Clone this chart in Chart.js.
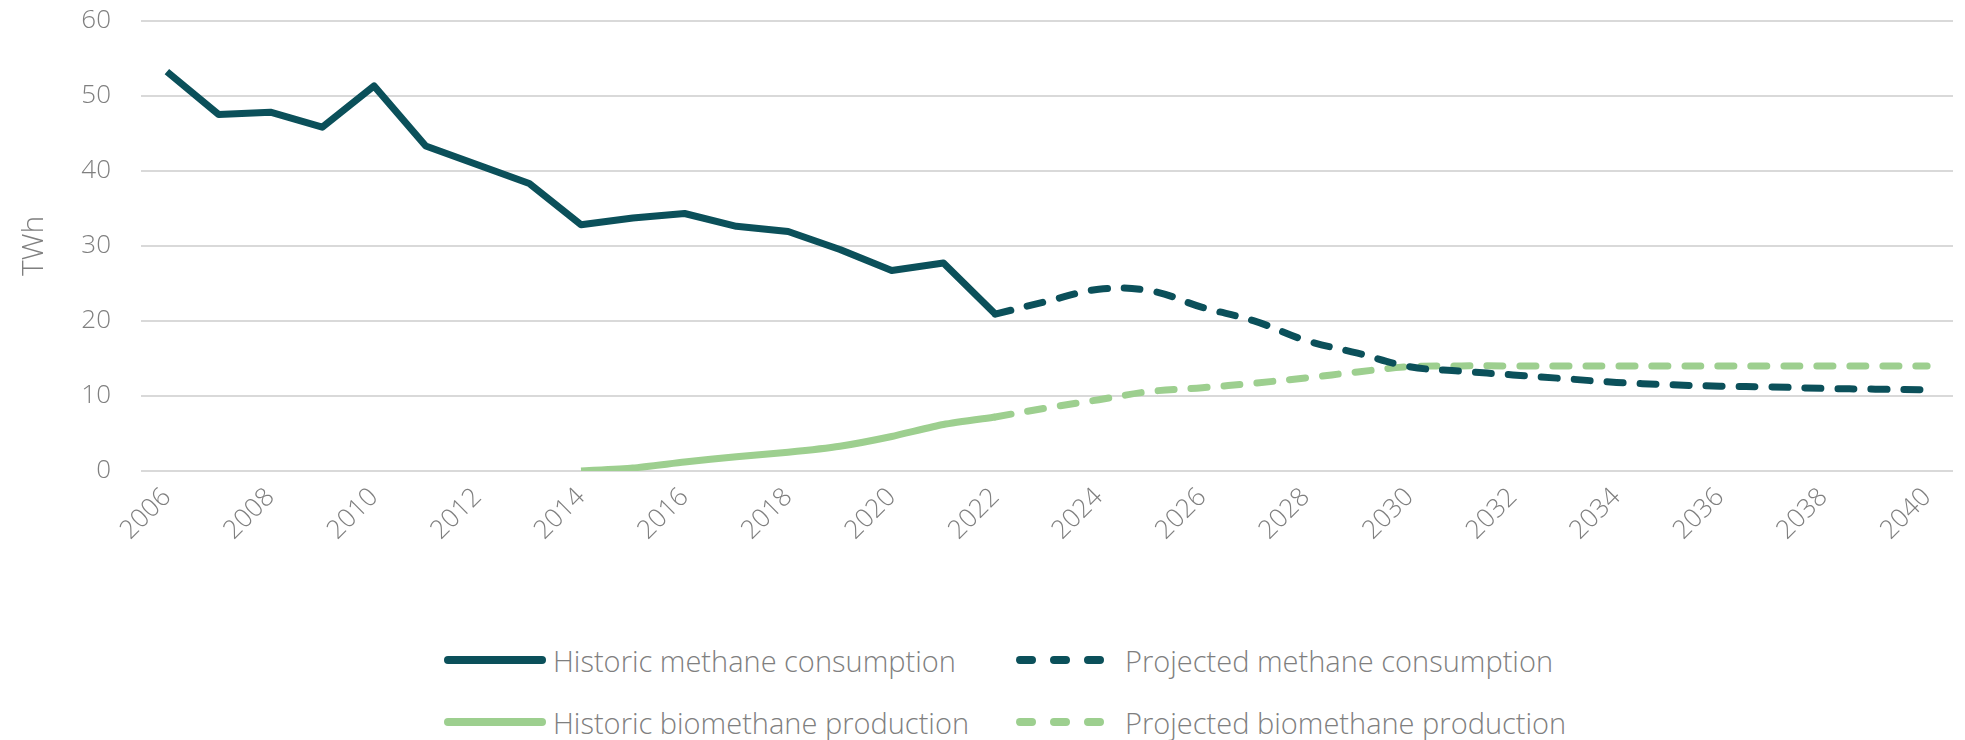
<!DOCTYPE html>
<html lang="en">
  <head>
    <meta charset="UTF-8" />
    <title>Methane consumption and biomethane production</title>
    <script src="https://cdn.jsdelivr.net/npm/chart.js"></script>
    <style>
      body { margin: 0; background: #fff; font-family: "Open Sans", sans-serif; overflow: hidden; }
      #wrap { position: relative; width: 1965px; height: 740px; overflow: hidden; }
      #chartBox { position: absolute; left: 0; top: -25px; width: 1965px; height: 585px; }
      #legend { position: absolute; left: 0; top: 560px; width: 1965px; height: 180px; }
      .item { position: absolute; display: flex; align-items: center; height: 40px;
        font-size: 29px; font-weight: 300; color: #7f7f7f; white-space: nowrap; }
      .item svg { margin-right: 6px; }
    </style>
  </head>
  <body>
    <div id="wrap">
      <div id="chartBox"><canvas id="methaneChart"></canvas></div>
      <div id="legend"></div>
    </div>

    <script>
      // values (TWh)
      const years = [];
      for (let y = 2006; y <= 2040; y++) years.push(String(y));

      // 2006 - 2022
      const historicMethane = [53.2, 47.5, 47.8, 45.8, 51.3, 43.3, 40.8, 38.3, 32.8, 33.7, 34.3, 32.6, 31.9, 29.5, 26.7, 27.7, 20.9];
      // 2022 - 2040
      const projectedMethane = [20.9, 22.6, 24.2, 24.0, 21.8, 20.0, 17.4, 15.7, 13.9, 13.3, 12.8, 12.3, 11.8, 11.5, 11.3, 11.2, 11.0, 10.9, 10.8];
      // 2014 - 2022
      const historicBio = [0.0, 0.4, 1.2, 1.9, 2.5, 3.3, 4.6, 6.2, 7.2];
      // 2022 - 2040
      const projectedBio = [7.2, 8.4, 9.5, 10.6, 11.1, 11.7, 12.4, 13.2, 13.9, 14.0, 14.0, 14.0, 14.0, 14.0, 14.0, 14.0, 14.0, 14.0, 14.0];

      const yTicks = [0, 10, 20, 30, 40, 50, 60];

      function place(values, startYear) {
        const out = years.map(() => null);
        const offset = years.indexOf(String(startYear));
        values.forEach((v, i) => (out[offset + i] = v));
        return out;
      }

      const dark = "#0b505a";
      const light = "#9dcf8f";
      const grey = "#7f7f7f";
      const dash = [16, 17];

      const ctx = document.getElementById("methaneChart").getContext("2d");
      const chart = new Chart(ctx, {
        type: "line",
        data: {
          labels: years,
          datasets: [
            {
              label: "Historic methane consumption",
              data: place(historicMethane, 2006),
              borderColor: dark,
              borderWidth: 7,
              tension: 0,
            },
            {
              label: "Projected methane consumption",
              data: place(projectedMethane, 2022),
              borderColor: dark,
              borderWidth: 7,
              borderDash: dash,
              borderCapStyle: "round",
              tension: 0.4,
            },
            {
              label: "Historic biomethane production",
              data: place(historicBio, 2014),
              borderColor: light,
              borderWidth: 7,
              tension: 0.2,
            },
            {
              label: "Projected biomethane production",
              data: place(projectedBio, 2022),
              borderColor: light,
              borderWidth: 7,
              borderDash: dash,
              borderCapStyle: "round",
              tension: 0.4,
            },
          ],
        },
        options: {
          responsive: true,
          maintainAspectRatio: false,
          animation: false,
          spanGaps: false,
          elements: { point: { radius: 0 }, line: { borderJoinStyle: "round" } },
          layout: { padding: { top: 8, right: 12, left: 0, bottom: 0 } },
          plugins: { legend: { display: false }, tooltip: { enabled: false } },
          scales: {
            x: {
              offset: true,
              grid: { display: false },
              border: { display: false },
              ticks: {
                autoSkip: false,
                minRotation: 45,
                maxRotation: 45,
                color: grey,
                font: { family: "Open Sans", size: 26, weight: 300 },
                callback: function (value, index) {
                  return index % 2 === 0 ? this.getLabelForValue(value) : "";
                },
              },
              afterFit: (scale) => { scale.height = 89; },
            },
            y: {
              min: 0,
              max: 60,
              afterBuildTicks: (scale) => { scale.ticks = yTicks.map((v) => ({ value: v })); },
              grid: { color: "#d9d9d9", lineWidth: 2, drawTicks: false },
              border: { display: false },
              ticks: {
                padding: 30,
                color: grey,
                font: { family: "Open Sans", size: 26, weight: 300 },
              },
              title: {
                display: true,
                text: "TWh",
                color: grey,
                font: { family: "Open Sans", size: 30, weight: 300 },
                padding: { top: 16, bottom: 0 },
              },
              afterFit: (scale) => { scale.width = 141; },
            },
          },
        },
      });

      // legend below the chart, two columns, built from the datasets
      const legend = document.getElementById("legend");
      const colX = [443, 1015];
      const rowY = [100, 162];
      chart.data.datasets.forEach((ds, i) => {
        const item = document.createElement("div");
        item.className = "item";
        item.style.left = colX[i % 2] + "px";
        item.style.top = rowY[Math.floor(i / 2)] - 20 + "px";
        const dashed = ds.borderDash ? 'stroke-dasharray="12 22"' : "";
        item.innerHTML =
          '<svg width="104" height="20"><line x1="5" y1="10" x2="99" y2="10" stroke="' +
          ds.borderColor + '" stroke-width="8" stroke-linecap="round" ' + dashed + "/></svg>" +
          "<span>" + ds.label + "</span>";
        legend.appendChild(item);
      });
    </script>
  </body>
</html>
